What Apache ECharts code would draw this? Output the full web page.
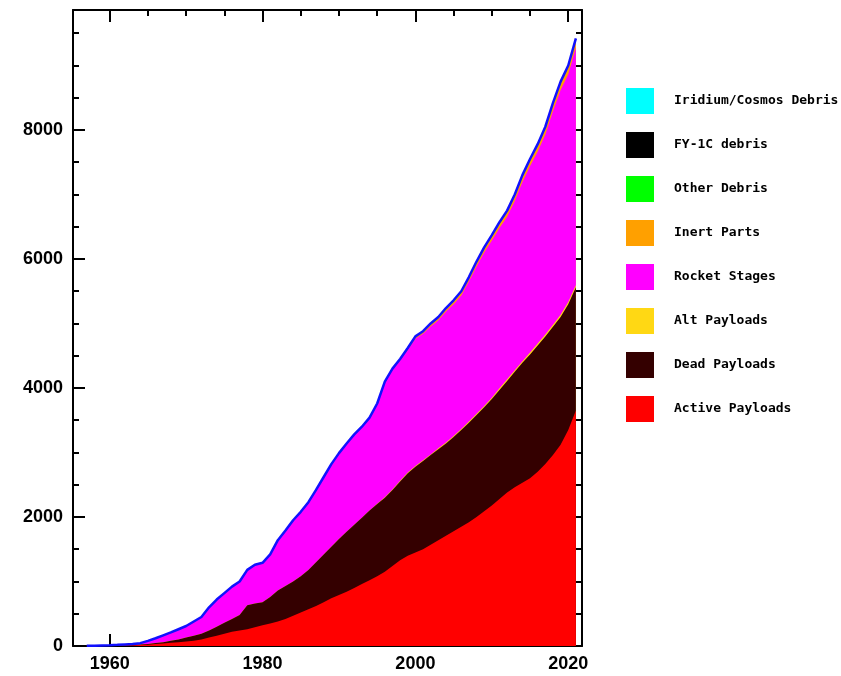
<!DOCTYPE html>
<html>
<head>
<meta charset="utf-8">
<script src="https://cdn.jsdelivr.net/npm/echarts@6/dist/echarts.min.js"></script>
<style>html,body{margin:0;padding:0;background:#fff;}#chart{width:841px;height:676px;}</style>
</head>
<body>
<div id="chart"></div>
<script>
// ---- data ----
var years = [1957,1958,1959,1960,1961,1962,1963,1964,1965,1966,1967,1968,1969,1970,1971,1972,1973,1974,1975,1976,1977,1978,1979,1980,1981,1982,1983,1984,1985,1986,1987,1988,1989,1990,1991,1992,1993,1994,1995,1996,1997,1998,1999,2000,2001,2002,2003,2004,2005,2006,2007,2008,2009,2010,2011,2012,2013,2014,2015,2016,2017,2018,2019,2020,2021];
var activePayloads = [1,2,3,4,5,7,9,14,20,30,40,50,60,70,80,100,130,160,190,220,240,260,290,320,350,380,420,470,520,570,620,680,740,790,840,900,960,1020,1080,1150,1240,1330,1400,1450,1500,1570,1640,1710,1780,1850,1920,2000,2090,2180,2280,2380,2460,2530,2600,2700,2820,2960,3120,3350,3650];
var deadPayloads = [0,1,2,3,4,5,6,8,10,15,20,30,40,60,80,90,110,140,170,200,240,370,370,360,410,480,510,530,560,610,680,740,800,870,930,980,1030,1080,1120,1150,1180,1220,1280,1330,1370,1390,1410,1430,1460,1500,1540,1580,1610,1650,1690,1730,1790,1860,1920,1960,1980,1990,1980,1950,1910];
var altPayloads = [0,0,0,0,0,0,0,0,0,0,0,0,0,0,0,0,0,0,0,0,0,0,0,0,0,0,0,0,0,0,0,0,0,0,0,0,0,0,5,5,5,10,10,10,10,10,15,15,15,15,20,20,20,20,25,25,25,25,30,30,30,30,35,35,35];
var rocketStages = [1,2,4,6,9,12,15,22,50,75,105,130,160,180,220,260,360,420,460,500,520,550,600,610,660,780,860,950,1000,1050,1120,1200,1280,1330,1370,1400,1410,1440,1545,1780,1855,1865,1900,1975,1960,1985,1985,2030,2045,2070,2170,2285,2380,2435,2485,2520,2625,2780,2890,2975,3100,3315,3485,3530,3685];
var inertParts = [0,0,0,0,0,0,0,0,0,0,0,0,0,0,0,0,0,0,0,0,0,0,0,0,0,0,0,0,0,0,0,0,0,0,0,0,0,0,10,15,20,25,30,35,40,45,50,55,60,65,70,75,80,85,90,95,100,105,110,115,120,125,130,135,140];
var otherDebris = [];
var fy1cDebris = [];
var iridiumDebris = [];

var xLabelValues = [1960, 1980, 2000, 2020];
var xMinorValues = [1960,1965,1970,1975,1980,1985,1990,1995,2000,2005,2010,2015,2020];
var yLabelValues = [0, 2000, 4000, 6000, 8000];
var yMinorValues = [0,500,1000,1500,2000,2500,3000,3500,4000,4500,5000,5500,6000,6500,7000,7500,8000,8500,9000,9500];

var legendOrder = ['Iridium/Cosmos Debris','FY-1C debris','Other Debris','Inert Parts','Rocket Stages','Alt Payloads','Dead Payloads','Active Payloads'];

// ---- build (stack computed here; each layer filled from 0 to its cumulative top) ----
var layers = [
  {name:'Active Payloads', data:activePayloads, color:'#ff0000'},
  {name:'Dead Payloads', data:deadPayloads, color:'#340000'},
  {name:'Alt Payloads', data:altPayloads, color:'#ffd814'},
  {name:'Rocket Stages', data:rocketStages, color:'#ff00ff'},
  {name:'Inert Parts', data:inertParts, color:'#ffa000'},
  {name:'Other Debris', data:otherDebris, color:'#00ff00'},
  {name:'FY-1C debris', data:fy1cDebris, color:'#000000'},
  {name:'Iridium/Cosmos Debris', data:iridiumDebris, color:'#00ffff'}
];

var running = years.map(function(){ return 0; });
var series = [];
layers.forEach(function(l){
  var pts = [];
  if (l.data.length) {
    running = running.map(function(r, i){ return r + l.data[i]; });
    pts = running.map(function(v, i){ return [years[i], v]; });
  }
  series.push({
    name:l.name, type:'line', data:pts,
    color:l.color, itemStyle:{color:l.color},
    areaStyle:{color:l.color, opacity:1, origin:'start'},
    lineStyle:{width:0}, showSymbol:false, symbol:'none',
    xAxisIndex:0, yAxisIndex:0, silent:true, z:2
  });
});
var totals = running.map(function(v, i){ return [years[i], v]; });
// draw upper layers first so lower layers cover them
series.reverse();
series.push({
  name:'Total', type:'line', data:totals, color:'#1010ff',
  lineStyle:{width:2.5, color:'#1010ff'}, showSymbol:false, symbol:'none',
  xAxisIndex:0, yAxisIndex:0, z:5, silent:true
});

var labelFont = {fontFamily:'Liberation Sans', fontWeight:'bold', fontSize:18, color:'#000'};
var XMIN = 1955.2, XMAX = 2021.8, YMIN = 0, YMAX = 9860;
function plain(v){ return String(v); }

function xAx(pos, custom, len, showLabel, showLine){
  return {
    type:'value', position:pos, min:XMIN, max:XMAX, gridIndex:0,
    axisLine:{show:showLine, onZero:false, lineStyle:{color:'#000', width:2}},
    axisTick:{show:true, inside:true, length:len, customValues:custom, lineStyle:{color:'#000', width:2}},
    axisLabel:showLabel ? Object.assign({show:true, customValues:custom, margin:9, formatter:plain}, labelFont) : {show:false},
    splitLine:{show:false}
  };
}
function yAx(pos, custom, len, showLabel, showLine){
  return {
    type:'value', position:pos, min:YMIN, max:YMAX, gridIndex:0,
    axisLine:{show:showLine, onZero:false, lineStyle:{color:'#000', width:2}},
    axisTick:{show:true, inside:true, length:len, customValues:custom, lineStyle:{color:'#000', width:2}},
    axisLabel:showLabel ? Object.assign({show:true, customValues:custom, margin:10, formatter:plain}, labelFont) : {show:false},
    splitLine:{show:false}
  };
}

var chart = echarts.init(document.getElementById('chart'), null, {renderer:'canvas'});
chart.setOption({
  animation:false,
  backgroundColor:'#ffffff',
  grid:{left:73, top:10, width:509, height:636, containLabel:false},
  legend:{
    data:legendOrder, orient:'vertical', left:621, top:83,
    itemWidth:28, itemHeight:26, itemGap:18, icon:'rect', selectedMode:false,
    textStyle:{fontFamily:'DejaVu Sans Mono', fontWeight:'bold', fontSize:13, color:'#000', padding:[0,0,0,15]}
  },
  xAxis:[
    xAx('bottom', xLabelValues, 12, true, true),
    xAx('bottom', xMinorValues, 6, false, false),
    xAx('top', xLabelValues, 12, false, true),
    xAx('top', xMinorValues, 6, false, false)
  ],
  yAxis:[
    yAx('left', yLabelValues, 12, true, true),
    yAx('left', yMinorValues, 6, false, false),
    yAx('right', yLabelValues, 12, false, true),
    yAx('right', yMinorValues, 6, false, false)
  ],
  series:series
});
</script>
</body>
</html>
